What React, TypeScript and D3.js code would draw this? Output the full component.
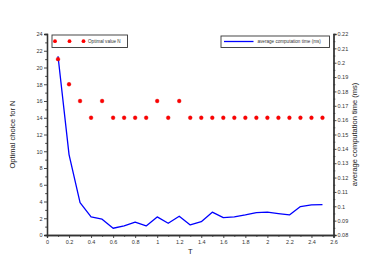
import { useEffect, useRef } from 'react'
import * as d3 from 'd3'

// T values (x), optimal N (left axis), avg computation time in ms (right axis)
const tValues = [0.1, 0.2, 0.3, 0.4, 0.5, 0.6, 0.7, 0.8, 0.9, 1.0, 1.1, 1.2, 1.3, 1.4, 1.5, 1.6, 1.7, 1.8, 1.9, 2.0, 2.1, 2.2, 2.3, 2.4, 2.5]
const optimalN = [21, 18, 16, 14, 16, 14, 14, 14, 14, 16, 14, 16, 14, 14, 14, 14, 14, 14, 14, 14, 14, 14, 14, 14, 14]
const avgTime = [0.2045, 0.136, 0.1026, 0.0926, 0.091, 0.0847, 0.0863, 0.0889, 0.0863, 0.0926, 0.0882, 0.0931, 0.087, 0.0893, 0.0959, 0.0921, 0.0926, 0.094, 0.0956, 0.0959, 0.0949, 0.094, 0.0998, 0.101, 0.1012]

const xTicks = [0, 0.2, 0.4, 0.6, 0.8, 1, 1.2, 1.4, 1.6, 1.8, 2, 2.2, 2.4, 2.6]
const leftTicks = [0, 2, 4, 6, 8, 10, 12, 14, 16, 18, 20, 22, 24]
const rightTicks = [0.08, 0.09, 0.1, 0.11, 0.12, 0.13, 0.14, 0.15, 0.16, 0.17, 0.18, 0.19, 0.2, 0.21, 0.22]

const W = 382
const H = 269
const FONT = '"Liberation Sans", Arial, sans-serif'
const AXIS = '#333'

export default function App() {
  const svgRef = useRef<SVGSVGElement>(null)

  useEffect(() => {
    const svg = svgRef.current
    if (!svg) return
    d3.select(svg).selectAll('*').remove()
    const root = d3.select(svg)

    const margin = { top: 34, right: 48.5, bottom: 34, left: 47 }
    const innerW = W - margin.left - margin.right
    const innerH = H - margin.top - margin.bottom

    const g = root.append('g').attr('transform', `translate(${margin.left},${margin.top})`)

    const x = d3.scaleLinear().domain([0, 2.6]).range([0, innerW])
    const yL = d3.scaleLinear().domain([0, 24]).range([innerH, 0])
    const yR = d3.scaleLinear().domain([0.08, 0.22]).range([innerH, 0])

    const fmt = (d: d3.NumberValue) => String(+(+d).toFixed(2))

    const style = (sel: d3.Selection<SVGGElement, unknown, null, undefined>) => {
      sel.select('.domain').attr('stroke', AXIS).attr('stroke-width', 1.3)
      sel.selectAll('line').attr('stroke', AXIS).attr('stroke-width', 0.9)
      sel.selectAll('text').attr('fill', '#333').attr('font-size', '5.5px').attr('font-family', FONT)
    }

    // ── minor ticks ─────────────────────────────────────────
    g.append('g')
      .attr('transform', `translate(0,${innerH})`)
      .call(d3.axisBottom(x).tickValues(d3.range(1, 26, 2).map((v) => v / 10)).tickSize(1.8).tickFormat(() => ''))
      .call(style)
    g.append('g')
      .call(d3.axisLeft(yL).tickValues(d3.range(1, 24, 2)).tickSize(1.8).tickFormat(() => ''))
      .call(style)
    g.append('g')
      .attr('transform', `translate(${innerW},0)`)
      .call(d3.axisRight(yR).tickValues(d3.range(0, 14).map((i) => 0.085 + i * 0.01)).tickSize(1.8).tickFormat(() => ''))
      .call(style)

    // ── major axes ──────────────────────────────────────────
    g.append('g')
      .attr('transform', `translate(0,${innerH})`)
      .call(d3.axisBottom(x).tickValues(xTicks).tickSize(3).tickPadding(2).tickFormat(fmt))
      .call(style)
    g.append('g')
      .call(d3.axisLeft(yL).tickValues(leftTicks).tickSize(3).tickPadding(1.5).tickFormat(fmt))
      .call(style)
    g.append('g')
      .attr('transform', `translate(${innerW},0)`)
      .call(d3.axisRight(yR).tickValues(rightTicks).tickSize(3).tickPadding(1).tickFormat(fmt))
      .call(style)

    // ── axis titles ─────────────────────────────────────────
    root.append('text')
      .attr('transform', `translate(13,${margin.top + innerH / 2}) rotate(-90)`)
      .attr('text-anchor', 'middle')
      .attr('dominant-baseline', 'middle')
      .attr('font-size', '7.5px')
      .attr('font-family', FONT)
      .attr('fill', '#222')
      .text('Optimal choice for N')
    root.append('text')
      .attr('transform', `translate(355,${margin.top + innerH / 2}) rotate(-90)`)
      .attr('text-anchor', 'middle')
      .attr('dominant-baseline', 'middle')
      .attr('font-size', '7.5px')
      .attr('font-family', FONT)
      .attr('fill', '#222')
      .text('average computation time (ms)')
    root.append('text')
      .attr('x', margin.left + x(1.3))
      .attr('y', 254)
      .attr('text-anchor', 'middle')
      .attr('font-size', '7.5px')
      .attr('font-family', FONT)
      .attr('fill', '#222')
      .text('T')

    // ── computation time line ───────────────────────────────
    const line = d3.line<number>()
      .x((_, i) => x(tValues[i]!))
      .y((d) => yR(d))
    g.append('path')
      .datum(avgTime)
      .attr('fill', 'none')
      .attr('stroke', '#0000ff')
      .attr('stroke-width', 1.3)
      .attr('stroke-linejoin', 'round')
      .attr('d', line)

    // ── optimal N points ────────────────────────────────────
    g.append('g')
      .selectAll('circle')
      .data(optimalN)
      .join('circle')
      .attr('cx', (_, i) => x(tValues[i]!))
      .attr('cy', (d) => yL(d))
      .attr('r', 1.9)
      .attr('fill', '#ff0000')
      .attr('stroke', '#dd1010')
      .attr('stroke-width', 0.4)

    // ── legends ─────────────────────────────────────────────
    const leg1 = root.append('g').attr('transform', 'translate(52,35)')
    leg1.append('rect').attr('width', 75.5).attr('height', 12.5).attr('fill', 'white').attr('stroke', AXIS).attr('stroke-width', 0.9)
    leg1.selectAll('circle')
      .data([3, 17.5, 31.5])
      .join('circle')
      .attr('cx', (d) => d)
      .attr('cy', 6.2)
      .attr('r', 1.9)
      .attr('fill', '#ff0000')
    leg1.append('text')
      .attr('x', 36)
      .attr('y', 6.4)
      .attr('dominant-baseline', 'middle')
      .attr('font-size', '4.6px')
      .attr('font-family', FONT)
      .attr('fill', '#333')
      .text('Optimal value N')

    const leg2 = root.append('g').attr('transform', 'translate(221,36)')
    leg2.append('rect').attr('width', 108.5).attr('height', 11.5).attr('fill', 'white').attr('stroke', AXIS).attr('stroke-width', 0.9)
    leg2.append('line').attr('x1', 3).attr('x2', 32.5).attr('y1', 5.5).attr('y2', 5.5).attr('stroke', '#0000ff').attr('stroke-width', 1.3)
    leg2.append('text')
      .attr('x', 36.5)
      .attr('y', 5.8)
      .attr('dominant-baseline', 'middle')
      .attr('font-size', '4.6px')
      .attr('font-family', FONT)
      .attr('fill', '#333')
      .text('average computation time (ms)')
  }, [])

  return (
    <>
      <style>{'body{margin:0}'}</style>
      <svg ref={svgRef} width={W} height={H} style={{ display: 'block', background: 'white' }} />
    </>
  )
}
